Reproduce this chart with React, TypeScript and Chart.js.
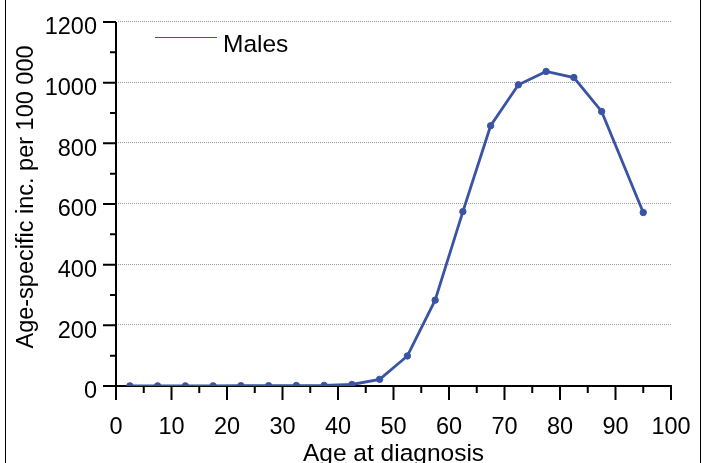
import React, { useEffect, useRef } from 'react';
import { Chart, registerables } from 'chart.js';

Chart.register(...registerables);

// ---- data ----
const ages = [2.5, 7.5, 12.5, 17.5, 22.5, 27.5, 32.5, 37.5, 42.5, 47.5, 52.5, 57.5, 62.5, 67.5, 72.5, 77.5, 82.5, 87.5, 95];
const males = [0.5, 0.5, 0.5, 0.5, 1, 1, 1.5, 2, 5, 22, 99, 283, 575, 858, 993, 1037, 1017, 905, 572];
const seriesLabel = 'Males';
const xTitle = 'Age at diagnosis';
const yTitle = 'Age-specific inc. per 100 000';
const xMin = 0;
const xMax = 100;
const xStep = 10;
const yMin = 0;
const yMax = 1200;
const yStep = 200;

const FONT = '"Liberation Sans", Arial, Helvetica, sans-serif';
const LINE_COLOR = '#3a53a4';

const decorPlugin = {
  id: 'decor',
  beforeDraw(chart: any) {
    const ctx = chart.ctx;
    ctx.save();
    ctx.fillStyle = '#ffffff';
    ctx.fillRect(0, 0, chart.width, chart.height);
    // outer frame (left / right edges visible)
    ctx.strokeStyle = '#000000';
    ctx.lineWidth = 1;
    ctx.beginPath();
    ctx.moveTo(5.5, 0);
    ctx.lineTo(5.5, chart.height);
    ctx.moveTo(700.5, 0);
    ctx.lineTo(700.5, chart.height);
    ctx.stroke();
    ctx.restore();
  },
  beforeDatasetsDraw(chart: any) {
    const ctx = chart.ctx;
    const xs = chart.scales.x;
    const ys = chart.scales.y;
    const area = chart.chartArea;
    const x0 = xs.getPixelForValue(xMin);
    const y0 = ys.getPixelForValue(yMin);
    ctx.save();
    // dotted grid lines at major y ticks
    ctx.strokeStyle = '#9a9a9a';
    ctx.lineWidth = 1;
    ctx.setLineDash([1, 1]);
    ys.ticks.forEach((t: any) => {
      const py = Math.round(ys.getPixelForValue(t.value)) - 0.5;
      ctx.beginPath();
      ctx.moveTo(x0 + 2, py);
      ctx.lineTo(area.right, py);
      ctx.stroke();
    });
    ctx.setLineDash([]);
    // axes
    ctx.strokeStyle = '#000000';
    ctx.lineWidth = 2;
    ctx.beginPath();
    ctx.moveTo(x0, ys.getPixelForValue(yMax));
    ctx.lineTo(x0, y0 + 1);
    ctx.moveTo(x0 - 1, y0);
    ctx.lineTo(xs.getPixelForValue(xMax) + 1, y0);
    ctx.stroke();
    // x ticks (major + minor)
    ctx.beginPath();
    xs.ticks.forEach((t: any, i: number) => {
      const px = xs.getPixelForValue(t.value);
      ctx.moveTo(px, y0);
      ctx.lineTo(px, y0 + 14);
      if (i < xs.ticks.length - 1) {
        const pm = xs.getPixelForValue(t.value + xStep / 2);
        ctx.moveTo(pm, y0);
        ctx.lineTo(pm, y0 + 7);
      }
    });
    // y ticks (major + minor)
    ys.ticks.forEach((t: any, i: number) => {
      const py = ys.getPixelForValue(t.value);
      ctx.moveTo(x0 - 13, py);
      ctx.lineTo(x0, py);
      if (i < ys.ticks.length - 1) {
        const pm = ys.getPixelForValue(t.value + yStep / 2);
        ctx.moveTo(x0 - 6, pm);
        ctx.lineTo(x0, pm);
      }
    });
    ctx.stroke();
    ctx.restore();
  },
  afterDraw(chart: any) {
    const ctx = chart.ctx;
    const xs = chart.scales.x;
    ctx.save();
    // legend
    const ds = chart.data.datasets[0];
    ctx.strokeStyle = LINE_COLOR;
    ctx.lineWidth = 1;
    ctx.beginPath();
    ctx.moveTo(155, 37.5);
    ctx.lineTo(217, 37.5);
    ctx.stroke();
    ctx.fillStyle = '#000000';
    ctx.font = `24.5px ${FONT}`;
    ctx.textAlign = 'left';
    ctx.textBaseline = 'alphabetic';
    ctx.fillText(ds.label, 223, 51.5);
    // x title
    ctx.textAlign = 'center';
    ctx.fillText(xTitle, (xs.left + xs.right) / 2, 461);
    // y title (rotated)
    ctx.font = `23.5px ${FONT}`;
    ctx.translate(32.5, 197);
    ctx.rotate(-Math.PI / 2);
    ctx.fillText(yTitle, 0, 0);
    ctx.restore();
  },
};

export default function App() {
  const canvasRef = useRef<HTMLCanvasElement | null>(null);

  useEffect(() => {
    const canvas = canvasRef.current;
    if (!canvas) return;
    const chart = new Chart(canvas, {
      type: 'line',
      data: {
        datasets: [
          {
            label: seriesLabel,
            data: ages.map((a, i) => ({ x: a, y: males[i] })),
            borderColor: LINE_COLOR,
            backgroundColor: LINE_COLOR,
            borderWidth: 2.8,
            pointRadius: 3.2,
            pointBorderWidth: 1,
            pointBackgroundColor: LINE_COLOR,
            pointBorderColor: LINE_COLOR,
            tension: 0,
            fill: false,
          },
        ],
      },
      options: {
        animation: false,
        responsive: false,
        devicePixelRatio: 1,
        layout: { padding: { top: 22, right: 38, bottom: 0, left: 0 } },
        plugins: {
          legend: { display: false },
          tooltip: { enabled: false },
        },
        scales: {
          x: {
            type: 'linear',
            min: xMin,
            max: xMax,
            border: { display: false },
            grid: { display: true, drawOnChartArea: false, drawTicks: true, tickLength: 14, tickColor: 'rgba(0,0,0,0)' },
            ticks: {
              stepSize: xStep,
              autoSkip: false,
              maxRotation: 0,
              padding: 13,
              color: '#000000',
              font: { family: FONT, size: 23.5 },
              callback: (v: any) => String(v),
            },
            afterFit: (s: any) => {
              s.height = 77;
            },
          },
          y: {
            type: 'linear',
            min: yMin,
            max: yMax,
            border: { display: false },
            grid: { display: true, drawOnChartArea: false, drawTicks: true, tickLength: 13, tickColor: 'rgba(0,0,0,0)' },
            ticks: {
              stepSize: yStep,
              padding: 6,
              labelOffset: 6,
              color: '#000000',
              font: { family: FONT, size: 23.5 },
              callback: (v: any) => String(v),
            },
            afterFit: (s: any) => {
              s.width = 116;
            },
          },
        },
      },
      plugins: [decorPlugin],
    } as any);
    return () => chart.destroy();
  }, []);

  return (
    <div style={{ position: 'absolute', left: 0, top: 0, width: 709, height: 463, overflow: 'hidden' }}>
      <canvas ref={canvasRef} width={709} height={463} style={{ display: 'block', width: 709, height: 463 }} />
    </div>
  );
}
